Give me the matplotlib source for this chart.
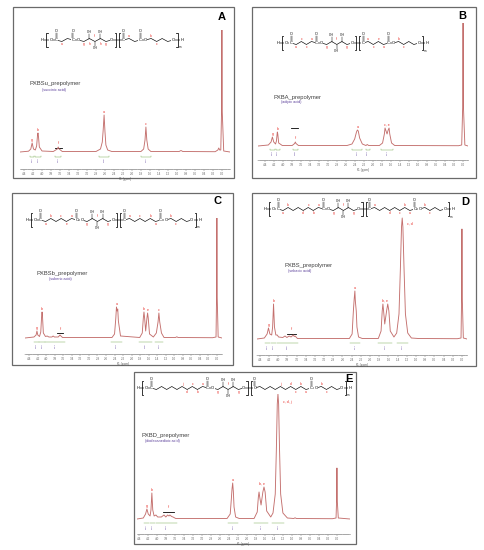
import numpy as np
import matplotlib
matplotlib.use('Agg')
from matplotlib import pyplot as plt
from matplotlib.ticker import MultipleLocator

plt.rcParams['font.family'] = ['Liberation Sans', 'DejaVu Sans']

W, H = 485, 550
LINE = '#c4706e'
RED = '#e8302a'
GREEN = '#7cae5a'
PURPLE = '#5b3f9a'

# ---- data ---------------------------------------------------------------
TITLES = ['PXBSu_prepolymer', 'PXBA_prepolymer', 'PXBSb_prepolymer',
          'PXBS_prepolymer', 'PXBD_prepolymer']
ACIDS = ['(succinic acid)', '(adipic acid)', '(suberic acid)',
         '(sebacic acid)', '(dodecanedioic acid)']
LETTERS = ['A', 'B', 'C', 'D', 'E']

# spectrum vertices: (ppm, intensity)
SPEC_A = [(4.49, 0), (4.30, 0.8), (4.25, 3), (4.22, 9), (4.19, 3), (4.15, 2), (4.12, 6),
          (4.10, 17), (4.09, 19), (4.08, 16), (4.06, 5), (4.00, 1), (3.75, 0.5), (3.66, 3),
          (3.64, 5), (3.62, 3), (3.55, 0.5), (2.80, 0.5), (2.70, 3), (2.66, 10), (2.64, 22),
          (2.62, 37), (2.60, 20), (2.58, 7), (2.54, 2), (2.45, 0.5), (1.80, 0.5), (1.74, 3),
          (1.71, 12), (1.69, 25), (1.67, 12), (1.64, 3), (1.58, 0.5), (0.95, 0.5), (0.91, 1.5),
          (0.87, 0.5), (0.15, 0.3), (0.09, 2), (0.07, 4), (0.05, 2), (0.025, 2), (0.008, 40),
          (0.0, 122), (-0.008, 40), (-0.04, 1), (-0.18, 0)]
SPEC_B = [(4.56, 0), (4.33, 1), (4.27, 4), (4.24, 9), (4.21, 4), (4.17, 2), (4.15, 5),
          (4.135, 12), (4.13, 14), (4.12, 12), (4.10, 3), (4.02, 0.5), (3.80, 0.5), (3.745, 2.5),
          (3.73, 4), (3.715, 2.5), (3.66, 0.5), (2.58, 0.5), (2.47, 2), (2.41, 7), (2.37, 14),
          (2.35, 16), (2.33, 15), (2.30, 8), (2.24, 2), (2.16, 0.5), (2.13, 1.5), (2.10, 0.5),
          (1.86, 0.5), (1.79, 3), (1.75, 12), (1.735, 18), (1.72, 16), (1.69, 12), (1.665, 16),
          (1.645, 18), (1.63, 12), (1.59, 3), (1.52, 0.5), (0.10, 0.3), (0.03, 1), (0.008, 40),
          (0.0, 123), (-0.008, 40), (-0.04, 1), (-0.11, 0)]
SPEC_C = [(4.50, 0), (4.29, 1), (4.24, 3), (4.22, 7), (4.20, 3), (4.16, 1.5), (4.13, 6),
          (4.11, 22), (4.10, 26), (4.09, 22), (4.07, 5), (4.02, 1.5), (3.98, 2), (3.94, 1),
          (3.87, 1), (3.84, 2), (3.81, 1), (3.72, 1), (3.69, 2.5), (3.68, 3), (3.67, 2.5),
          (3.62, 0.5), (2.46, 0.5), (2.40, 4), (2.37, 20), (2.355, 31), (2.34, 27), (2.325, 29),
          (2.31, 17), (2.26, 2), (1.81, 0.5), (1.75, 5), (1.725, 20), (1.71, 26), (1.695, 20),
          (1.67, 7), (1.64, 20), (1.625, 25), (1.61, 20), (1.58, 4), (1.49, 1), (1.42, 5),
          (1.38, 16), (1.36, 25), (1.34, 16), (1.30, 5), (1.24, 0.5), (0.97, 0.5), (0.94, 1.2),
          (0.91, 0.5), (0.10, 0.3), (0.02, 1), (0.008, 40), (0.0, 120), (-0.008, 40),
          (-0.03, 1), (-0.12, 0)]
SPEC_D = [(4.46, 0), (4.30, 1), (4.24, 5), (4.21, 11), (4.18, 5), (4.14, 4), (4.12, 12),
          (4.10, 35), (4.08, 12), (4.05, 4), (4.02, 4), (3.99, 2), (3.90, 1.5), (3.85, 3),
          (3.81, 1.5), (3.76, 3), (3.72, 2), (3.67, 4), (3.65, 2.5), (3.63, 3), (3.58, 0.5),
          (2.45, 0.5), (2.39, 5), (2.37, 22), (2.36, 30), (2.345, 40), (2.33, 48), (2.32, 38),
          (2.30, 28), (2.285, 12), (2.25, 2), (2.17, 0.5), (1.82, 0.5), (1.76, 8), (1.735, 28),
          (1.72, 35), (1.705, 28), (1.68, 15), (1.64, 28), (1.615, 35), (1.59, 28), (1.56, 8),
          (1.48, 2), (1.42, 6), (1.37, 25), (1.34, 70), (1.315, 112), (1.30, 121), (1.285, 112),
          (1.26, 70), (1.23, 25), (1.18, 6), (1.10, 1), (0.95, 0.5), (0.10, 0.3), (0.02, 1),
          (0.008, 40), (0.0, 110), (-0.008, 40), (-0.03, 1), (-0.11, 0)]
SPEC_E = [(4.44, 0), (4.30, 1), (4.25, 5), (4.22, 10), (4.19, 5), (4.15, 3), (4.13, 9),
          (4.11, 26), (4.09, 9), (4.06, 3), (4.02, 4), (3.98, 2), (3.90, 2), (3.84, 4),
          (3.80, 2), (3.76, 4), (3.73, 3), (3.71, 4), (3.67, 2.5), (3.64, 2), (3.58, 0.5),
          (2.44, 0.5), (2.37, 5), (2.345, 20), (2.33, 30), (2.315, 36), (2.30, 27), (2.285, 12),
          (2.25, 2), (2.17, 0.5), (1.84, 0.5), (1.77, 7), (1.745, 22), (1.73, 27), (1.715, 22),
          (1.685, 14), (1.645, 27), (1.62, 32), (1.595, 27), (1.56, 8), (1.47, 2), (1.42, 6),
          (1.37, 25), (1.345, 70), (1.325, 115), (1.31, 125), (1.295, 115), (1.275, 70),
          (1.25, 25), (1.20, 6), (1.10, 1), (0.96, 0.5), (0.93, 1.2), (0.90, 0.5), (0.10, 0.3),
          (0.02, 1), (0.008, 18), (0.0, 51), (-0.008, 18), (-0.03, 1), (-0.29, 0)]

# peak letters: (ppm, height, text)
LBL_A = [(4.22, 9, 'g'), (4.09, 19, 'b'), (3.64, 6, 'f'), (2.62, 37, 'a'), (1.69, 25, 'c')]
LBL_B = [(4.24, 9, 'g'), (4.13, 14, 'b'), (3.73, 5, 'f'), (2.35, 16, 'a'), (1.69, 18, 'c, e')]
LBL_C = [(4.22, 7, 'g'), (4.10, 26, 'b'), (3.68, 6, 'f'), (2.35, 31, 'a'), (1.72, 26, 'b'),
         (1.61, 25, 'e'), (1.36, 25, 'c')]
LBL_D = [(4.21, 11, 'g'), (4.10, 35, 'b'), (3.70, 7, 'f'), (2.33, 48, 'a'), (1.67, 35, 'b, e'),
         (1.13, 112, 'c, d')]
LBL_E = [(4.22, 10, 'g'), (4.11, 26, 'b'), (3.74, 9, 'f'), (2.315, 36, 'a'), (1.67, 32, 'b, e'),
         (1.10, 114, 'c, d, j')]

# black bar over the xylitol multiplet: (ppm left, ppm right, height)
BAR_A = (3.72, 3.56, 4.5)
BAR_B = (3.82, 3.67, 18)
BAR_C = (3.76, 3.60, 5)
BAR_D = (3.80, 3.62, 5.5)
BAR_E = (3.86, 3.62, 7)

# integration ranges: (ppm left, ppm right, value)
INT_A = [(4.27, 4.17, '0.21'), (4.15, 4.03, '1.00'), (3.71, 3.57, '0.12'),
         (2.74, 2.50, '1.05'), (1.80, 1.58, '1.01')]
INT_B = [(4.29, 4.19, '0.19'), (4.17, 4.07, '1.00'), (3.78, 3.68, '0.08'),
         (2.48, 2.24, '1.02'), (2.16, 2.08, '0.03'), (1.82, 1.56, '1.04')]
INT_C = [(4.30, 4.18, '0.18'), (4.16, 4.04, '1.00'), (4.02, 3.56, '0.24'),
         (2.48, 2.22, '1.03'), (1.82, 1.52, '2.05'), (1.46, 1.26, '1.02')]
INT_D = [(4.28, 4.17, '0.20'), (4.15, 4.04, '1.00'), (4.02, 3.56, '0.25'),
         (2.44, 2.22, '1.04'), (1.82, 1.52, '2.06'), (1.42, 1.18, '2.10')]
INT_E = [(4.28, 4.17, '0.21'), (4.15, 4.04, '1.00'), (4.02, 3.56, '0.26'),
         (2.42, 2.20, '1.02'), (1.84, 1.52, '2.04'), (1.44, 1.18, '3.12')]

# structures: H/O = atoms, C = carbonyl, - = CH2, X = CH(OH), [ ] = repeat brackets
SEQ_A = 'H[OC--CO-XXX-O][C--CO----O]H'
SEQ_B = 'H[OC----CO-XXX-O][C----CO----O]H'
SEQ_C = 'H[OC------CO-XXX-O][C------CO----O]H'
SEQ_D = 'H[OC--------CO-XXX-O][C--------CO----O]H'
SEQ_E = 'H[OC----------CO-XXX-O][C----------CO----O]H'
MARKS_A = {4: 'a', 8: 'g', 9: 'h', 10: 'f', 11: 'h', 12: 'g', 17: 'a', 21: 'b', 22: 'c'}
MARKS_B = {4: 'a', 5: 'c', 6: 'c', 7: 'a', 10: 'g', 12: 'f', 14: 'g', 19: 'a', 20: 'c',
           21: 'e', 22: 'a', 25: 'b', 26: 'c'}
MARKS_C = {4: 'a', 5: 'b', 7: 'c', 8: 'e', 9: 'a', 12: 'g', 14: 'f', 16: 'g', 21: 'a',
           23: 'c', 25: 'b', 26: 'a', 29: 'b', 30: 'c'}
MARKS_D = {4: 'a', 5: 'b', 8: 'd', 9: 'c', 10: 'b', 11: 'a', 14: 'g', 16: 'f', 18: 'g',
           23: 'a', 26: 'd', 28: 'c', 29: 'b', 30: 'a', 33: 'b', 34: 'c'}
MARKS_E = {9: 'j', 10: 'd', 11: 'c', 12: 'b', 13: 'a', 16: 'g', 18: 'f', 20: 'g', 29: 'j',
           31: 'd', 32: 'c', 33: 'b', 34: 'a', 37: 'b', 38: 'c'}

# ---- layout in pixels ----------------------------------------------------
PANELS = [
    dict(box=(13, 7, 234, 178), letter=(222, 17), title=(30, 83), acid=(42, 90),
         struct=(42, 182, 40), left=20, right=230, top=30, axis=169, base=152,
         xlim=(4.49, -0.18), spec=SPEC_A, lbl=LBL_A, bar=BAR_A, integ=INT_A,
         seq=SEQ_A, marks=MARKS_A),
    dict(box=(252, 7, 476, 178), letter=(462, 16), title=(274, 97), acid=(281, 102),
         struct=(278, 427, 43), left=258, right=468, top=23, axis=160, base=146,
         xlim=(4.56, -0.11), spec=SPEC_B, lbl=LBL_B, bar=BAR_B, integ=INT_B,
         seq=SEQ_B, marks=MARKS_B),
    dict(box=(12, 193, 233, 365), letter=(218, 201), title=(37, 273), acid=(49, 279),
         struct=(27, 200, 220), left=25, right=222, top=218, axis=354, base=338,
         xlim=(4.50, -0.12), spec=SPEC_C, lbl=LBL_C, bar=BAR_C, integ=INT_C,
         seq=SEQ_C, marks=MARKS_C),
    dict(box=(252, 193, 476, 366), letter=(465, 202), title=(285, 265), acid=(288, 271),
         struct=(265, 453, 209), left=257, right=467, top=217, axis=355, base=339,
         xlim=(4.46, -0.11), spec=SPEC_D, lbl=LBL_D, bar=BAR_D, integ=INT_D,
         seq=SEQ_D, marks=MARKS_D),
    dict(box=(134, 372, 356, 544), letter=(349, 379), title=(142, 435), acid=(145, 441),
         struct=(138, 350, 388), left=137, right=350, top=394, axis=534, base=519,
         xlim=(4.44, -0.29), spec=SPEC_E, lbl=LBL_E, bar=BAR_E, integ=INT_E,
         seq=SEQ_E, marks=MARKS_E),
]


def px_axes(fig, left, top, right, bottom):
    return fig.add_axes([left / W, 1 - bottom / H, (right - left) / W, (bottom - top) / H])


def draw_structure(ax, seq, marks, x0, x1, y0):
    n_br = sum(ch in '[]' for ch in seq)
    n_v = len(seq) - n_br
    dx = (x1 - x0) / (n_v - 1 + 0.6 * n_br)
    x_next = x0
    xs, ys = [], []
    last_br = x1
    j = 0
    box = dict(boxstyle='square,pad=0.06', fc='white', ec='none')
    for i, ch in enumerate(seq):
        if ch in '[]':
            bx = x_next - 0.2 * dx
            s = 1.2 if ch == '[' else -1.2
            ax.plot([bx + s, bx, bx, bx + s], [y0 - 7, y0 - 7, y0 + 7, y0 + 7],
                    color='k', lw=0.55, zorder=3)
            x_next += 0.6 * dx
            last_br = bx
            continue
        x = x_next
        up = j % 2 == 0
        if ch in 'HOC':
            y = y0
            ax.text(x, y, ch, fontsize=2.9, ha='center', va='center', zorder=4, bbox=box)
        else:
            y = y0 - 1.5 if up else y0 + 1.5
        xs.append(x)
        ys.append(y)
        if ch == 'C':
            for off in (-0.45, 0.45):
                ax.plot([x + off, x + off], [y0 - 2.2, y0 - 7], color='k', lw=0.3, zorder=3)
            ax.text(x, y0 - 8.6, 'O', fontsize=2.7, ha='center', va='center', zorder=4)
        if ch == 'X':
            d = -1 if up else 1
            ax.plot([x, x], [y, y0 + d * 6], color='k', lw=0.35, zorder=3)
            ax.text(x, y0 + d * 7.8, 'OH', fontsize=2.3, ha='center', va='center', zorder=4)
        if i in marks:
            d = -1 if up else 1
            if ch == 'X':
                d = -d
            ax.text(x, y0 + d * 4.3, marks[i], fontsize=2.4, color=RED,
                    ha='center', va='center', zorder=4)
        j += 1
        x_next = x + dx
    ax.plot(xs, ys, color='k', lw=0.45, zorder=2)
    ax.text(last_br + 1.2, y0 + 7.5, 'm', fontsize=2.0, ha='left', va='center')


def draw_spectrum(fig, p):
    ax = px_axes(fig, p['left'], p['top'], p['right'], p['axis'])
    ax.set_facecolor('none')
    ppm, inten = zip(*p['spec'])
    ax.plot(ppm, inten, color=LINE, lw=0.65, solid_joinstyle='round', zorder=3)
    low = -(p['axis'] - p['base'])
    ax.set_xlim(*p['xlim'])
    ax.set_ylim(low, p['base'] - p['top'])

    for x, h, t in p['lbl']:
        ax.text(x, h + 1.2, t, fontsize=2.6, color=RED, ha='center', va='bottom')
    bl, br, bh = p['bar']
    ax.plot([bl, br], [bh, bh], color='k', lw=0.6)

    gy = low * 0.28
    for l, r, v in p['integ']:
        ax.plot([l, l, r, r], [gy + 0.6, gy, gy, gy + 0.6], color=GREEN, lw=0.35)
        ax.text((l + r) / 2, gy - 0.8, v, fontsize=1.7, color=PURPLE, rotation=90,
                ha='center', va='top')

    for s in ('top', 'left', 'right'):
        ax.spines[s].set_visible(False)
    ax.spines['bottom'].set_color('#777777')
    ax.spines['bottom'].set_linewidth(0.4)
    ax.set_yticks([])
    ax.set_xticks(np.round(np.arange(0, 4.41, 0.2), 1))
    ax.xaxis.set_minor_locator(MultipleLocator(0.05))
    ax.xaxis.set_major_formatter(matplotlib.ticker.FormatStrFormatter('%.1f'))
    ax.tick_params(axis='x', which='major', length=1.6, width=0.3, labelsize=2.2,
                   pad=0.7, colors='#666666')
    ax.tick_params(axis='x', which='minor', length=0.9, width=0.25, colors='#777777')
    ax.set_xlabel('f1 (ppm)', fontsize=2.3, labelpad=0.4, color='#555555')


fig = plt.figure(figsize=(W / 100, H / 100), dpi=100)
bg = fig.add_axes([0, 0, 1, 1])
bg.set_xlim(0, W)
bg.set_ylim(H, 0)
bg.axis('off')

for k, p in enumerate(PANELS):
    l, t, r, b = p['box']
    bg.add_patch(plt.Rectangle((l, t), r - l, b - t, fill=False, ec='#6a6a6a', lw=0.9))
    bg.text(*p['letter'], LETTERS[k], fontsize=8, fontweight='bold', ha='center', va='center')
    bg.text(*p['title'], TITLES[k], fontsize=4.2, color='#404040', ha='left', va='center')
    bg.text(*p['acid'], ACIDS[k], fontsize=2.7, color=PURPLE, ha='left', va='center')
    x0, x1, y0 = p['struct']
    draw_structure(bg, p['seq'], p['marks'], x0, x1, y0)
    draw_spectrum(fig, p)

fig.savefig('out.png', dpi=100)
